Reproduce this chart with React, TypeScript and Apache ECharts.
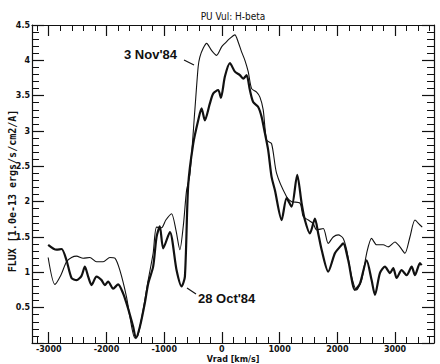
import React, { useEffect, useRef } from "react";
import * as echarts from "echarts";

// 3 Nov '84 spectrum (thin line): radial velocity [km/s] and flux
const nov3V = [-3010, -2894, -2790, -2692, -2605, -2518, -2404, -2288, -2172, -2057, -1941, -1854, -1768, -1652, -1594, -1508, -1456, -1364, -1277, -1191, -1132, -1045, -971, -872, -797, -728, -667, -612, -555, -468, -411, -381, -324, -265, -179, -92, -5, 52, 139, 225, 282, 341, 399, 456, 515, 601, 659, 716, 775, 861, 948, 1121, 1208, 1352, 1409, 1496, 1582, 1641, 1756, 1842, 1929, 2016, 2102, 2161, 2248, 2334, 2421, 2508, 2594, 2681, 2795, 2882, 2998, 3085, 3172, 3258, 3345, 3432, 3471];
const nov3F = [1.21, 0.83, 0.96, 1.15, 1.21, 1.23, 1.2, 1.21, 1.15, 1.15, 1.21, 1.2, 1.03, 0.65, 0.37, 0.07, 0.1, 0.47, 0.89, 1.27, 1.64, 1.63, 1.74, 1.83, 1.6, 1.32, 1.67, 2.16, 2.38, 3.3, 3.91, 4.05, 4.17, 4.24, 4.14, 4.07, 4.19, 4.24, 4.31, 4.36, 4.26, 4.12, 4.0, 3.84, 3.6, 3.55, 3.48, 3.3, 2.87, 2.82, 2.4, 2.07, 2.0, 1.98, 1.79, 1.74, 1.69, 1.6, 1.62, 1.41, 1.5, 1.53, 1.48, 1.32, 0.94, 0.75, 0.89, 1.27, 1.48, 1.39, 1.39, 1.36, 1.43, 1.36, 1.27, 1.5, 1.74, 1.67, 1.64];

// 28 Oct '84 spectrum (thick line)
const oct28V = [-3010, -2865, -2778, -2692, -2605, -2518, -2432, -2374, -2317, -2258, -2172, -2085, -2028, -1971, -1884, -1797, -1711, -1652, -1594, -1537, -1490, -1421, -1334, -1277, -1191, -1132, -1075, -1017, -901, -785, -698, -641, -584, -497, -411, -352, -295, -208, -151, -64, -17, 52, 139, 225, 312, 369, 428, 485, 542, 629, 688, 745, 802, 861, 919, 1035, 1121, 1208, 1305, 1381, 1438, 1525, 1612, 1669, 1728, 1842, 1958, 2045, 2102, 2189, 2305, 2392, 2508, 2594, 2652, 2738, 2825, 2912, 2969, 3028, 3114, 3201, 3288, 3345, 3432, 3460];
const oct28F = [1.39, 1.32, 1.33, 1.17, 0.92, 0.89, 0.95, 1.08, 0.94, 0.82, 0.94, 0.89, 0.82, 0.87, 0.77, 0.83, 0.7, 0.56, 0.4, 0.23, 0.07, 0.23, 0.57, 0.84, 1.08, 1.5, 1.65, 1.34, 1.57, 1.03, 0.8, 0.94, 2.23, 2.82, 3.15, 3.32, 3.15, 3.39, 3.53, 3.58, 3.47, 3.77, 3.96, 3.84, 3.79, 3.74, 3.79, 3.58, 3.41, 3.34, 3.2, 2.97, 2.73, 2.35, 2.16, 1.74, 2.05, 1.93, 2.38, 1.98, 1.74, 1.55, 1.76, 1.55, 1.32, 1.01, 1.27, 1.36, 1.41, 1.17, 0.75, 0.84, 1.17, 0.89, 0.68, 0.99, 1.08, 0.99, 1.06, 0.92, 1.03, 0.96, 1.08, 0.96, 1.13, 1.1];

const xMajorTicks = [-3000, -2000, -1000, 0, 1000, 2000, 3000];
const xMinorTicks = [-3200, -2800, -2600, -2400, -2200, -1800, -1600, -1400, -1200, -800, -600, -400, -200, 200, 400, 600, 800, 1200, 1400, 1600, 1800, 2200, 2400, 2600, 2800, 3200, 3400, 3600];
const yMin = 0;
const yMax = 4.5;
const yStep = 0.5;

const titleText = "PU Vul: H-beta";
const xName = "Vrad [km/s]";
const yName = "FLUX [1.0e-13 ergs/s/cm2/A]";
const label3Nov = "3 Nov'84";
const label28Oct = "28 Oct'84";

const X_MIN = -3290;
const X_MAX = 3675;
const INK = "#111";

export default function App() {
  const ref = useRef<HTMLDivElement>(null);
  useEffect(() => {
    if (!ref.current) return;
    const chart = echarts.init(ref.current, undefined, { renderer: "svg" });
    const tickFont = { fontFamily: "DejaVu Sans", fontWeight: "bold" as const, fontSize: 8, color: INK };
    const xAxisBase = { type: "value" as const, min: X_MIN, max: X_MAX, splitLine: { show: false } };
    const lineBase = { show: true, onZero: false, lineStyle: { color: INK, width: 1.2 } };
    const option: any = {
      animation: false,
      backgroundColor: "#fff",
      title: {
        text: titleText,
        left: 228,
        top: 6,
        textAlign: "center",
        textStyle: { fontFamily: "DejaVu Sans Condensed, DejaVu Sans", fontSize: 10, fontWeight: "normal", color: INK },
      },
      grid: { left: 32, right: 6, top: 25, bottom: 21, containLabel: false, outerBoundsMode: "none" },
      xAxis: [
        {
          ...xAxisBase,
          position: "bottom",
          axisLine: lineBase,
          axisTick: { show: true, inside: true, length: 11, customValues: xMajorTicks, lineStyle: { color: INK, width: 1.2 } },
          axisLabel: { show: true, margin: 2, customValues: xMajorTicks, ...tickFont, formatter: (v: number) => String(v) },
        },
        {
          ...xAxisBase,
          position: "bottom",
          axisLine: { show: false, onZero: false },
          axisTick: { show: true, inside: true, length: 6, customValues: xMinorTicks, lineStyle: { color: INK, width: 1 } },
          axisLabel: { show: false },
        },
        {
          ...xAxisBase,
          position: "top",
          axisLine: lineBase,
          axisTick: { show: true, inside: true, length: 11, customValues: xMajorTicks, lineStyle: { color: INK, width: 1.2 } },
          axisLabel: { show: false },
        },
        {
          ...xAxisBase,
          position: "top",
          axisLine: { show: false, onZero: false },
          axisTick: { show: true, inside: true, length: 6, customValues: xMinorTicks, lineStyle: { color: INK, width: 1 } },
          axisLabel: { show: false },
        },
      ],
      yAxis: [
        {
          type: "value",
          position: "left",
          min: yMin,
          max: yMax,
          interval: yStep,
          splitLine: { show: false },
          axisLine: lineBase,
          axisTick: { show: true, inside: true, length: 12, lineStyle: { color: INK, width: 1.2 } },
          minorTick: { show: true, splitNumber: 5, length: 7, lineStyle: { color: INK, width: 1 } },
          minorSplitLine: { show: false },
          axisLabel: {
            show: true,
            margin: 2,
            ...tickFont,
            formatter: (v: number) => (v === 0 ? "" : String(v)),
          },
        },
        {
          type: "value",
          position: "right",
          min: yMin,
          max: yMax,
          interval: yStep,
          splitLine: { show: false },
          axisLine: lineBase,
          axisTick: { show: true, inside: true, length: 12, lineStyle: { color: INK, width: 1.2 } },
          minorTick: { show: true, splitNumber: 5, length: 7, lineStyle: { color: INK, width: 1 } },
          axisLabel: { show: false },
        },
      ],
      series: [
        {
          name: label3Nov,
          type: "line",
          xAxisIndex: 0,
          yAxisIndex: 0,
          data: nov3V.map((v, i) => [v, nov3F[i]]),
          showSymbol: false,
          smooth: 0.25,
          lineStyle: { color: INK, width: 1.1 },
        },
        {
          name: label28Oct,
          type: "line",
          xAxisIndex: 0,
          yAxisIndex: 0,
          data: oct28V.map((v, i) => [v, oct28F[i]]),
          showSymbol: false,
          smooth: 0.25,
          lineStyle: { color: INK, width: 2.2 },
        },
      ],
      graphic: [
        {
          type: "text",
          x: 12,
          y: 191,
          rotation: Math.PI / 2,
          style: {
            text: yName,
            fontFamily: "DejaVu Sans Mono",
            fontWeight: "bold",
            fontSize: 10,
            fill: INK,
            align: "center",
            verticalAlign: "middle",
          },
        },
        {
          type: "text",
          x: 233,
          y: 359,
          z: 100,
          style: {
            text: xName,
            fontFamily: "DejaVu Sans",
            fontWeight: "bold",
            fontSize: 8,
            fill: INK,
            align: "center",
            verticalAlign: "middle",
          },
        },
        {
          type: "text",
          left: 124,
          top: 48,
          style: { text: label3Nov, fontFamily: "Liberation Sans", fontWeight: "bold", fontSize: 13, fill: INK },
        },
        { type: "line", shape: { x1: 184, y1: 60, x2: 194, y2: 65 }, style: { stroke: INK, lineWidth: 1.2 } },
        {
          type: "text",
          left: 198,
          top: 292,
          style: { text: label28Oct, fontFamily: "Liberation Sans", fontWeight: "bold", fontSize: 13, fill: INK },
        },
        { type: "line", shape: { x1: 187, y1: 288, x2: 196, y2: 294 }, style: { stroke: INK, lineWidth: 1.2 } },
      ],
    };
    chart.setOption(option);
    return () => chart.dispose();
  }, []);
  return (
    <div
      ref={ref}
      style={{ position: "fixed", left: 0, top: 0, width: 440, height: 364, margin: 0, overflow: "hidden" }}
    />
  );
}
